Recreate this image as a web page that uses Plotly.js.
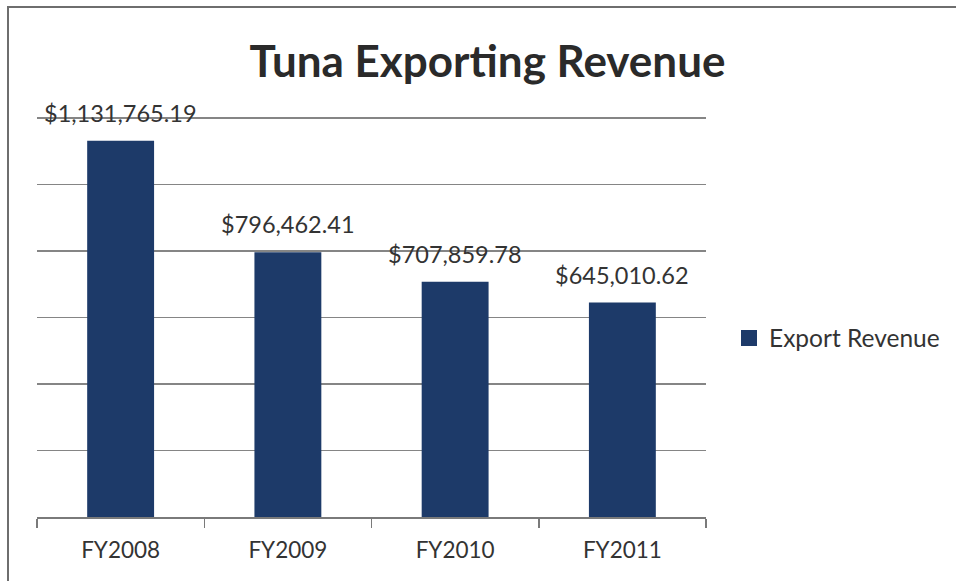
<!DOCTYPE html>
<html>
<head>
<meta charset="utf-8">
<script src="https://cdn.plot.ly/plotly-3.0.1.min.js"></script>
<style>
  html, body { margin: 0; padding: 0; background: #fff; }
  #wrap { position: relative; width: 956px; height: 581px; overflow: hidden; }
  #chart { position: absolute; left: 0; top: 0; width: 956px; height: 581px; }
  #frame { position: absolute; left: 7px; top: 6px; width: 960px; height: 590px;
           border-top: 2px solid #6e6e6e; border-left: 2px solid #6e6e6e; pointer-events: none; }
</style>
</head>
<body>
<div id="wrap">
  <div id="chart"></div>
  <div id="frame"></div>
</div>
<script>
const categories = ["FY2008", "FY2009", "FY2010", "FY2011"];
const revenue = [1131765.19, 796462.41, 707859.78, 645010.62];
const valueLabels = ["$1,131,765.19", "$796,462.41", "$707,859.78", "$645,010.62"];
const seriesName = "Export Revenue";

const barColor = "#1d3a69";
const font = "Lato, 'Open Sans', sans-serif";

const trace = {
  type: "bar",
  x: categories,
  y: revenue,
  name: seriesName,
  legendgroup: "rev",
  marker: { color: barColor },
  showlegend: false,
  hoverinfo: "skip"
};

// legend-only entry with a larger square swatch
const legendTrace = {
  type: "scatter",
  mode: "markers",
  x: [null], y: [null],
  name: seriesName,
  legendgroup: "rev",
  marker: { color: barColor, symbol: "square", size: 16 },
  showlegend: true,
  hoverinfo: "skip"
};

const annotations = categories.map((c, i) => ({
  x: c, y: revenue[i], xref: "x", yref: "y",
  text: valueLabels[i],
  showarrow: false,
  yanchor: "bottom",
  yshift: 12,
  font: { family: font, size: 23.5, color: "#333333" }
}));

const layout = {
  width: 956, height: 581,
  margin: { l: 37, r: 250, t: 116, b: 64 },
  paper_bgcolor: "#ffffff",
  plot_bgcolor: "#ffffff",
  title: {
    text: "<b>Tuna Exporting Revenue</b>",
    xref: "container", yref: "container",
    x: 0.51, xanchor: "center",
    y: 1 - 62 / 581, yanchor: "middle",
    font: { family: font, size: 44, color: "#2a2a2a" }
  },
  bargap: 0.6,
  xaxis: {
    type: "category",
    categoryarray: categories, categoryorder: "array",
    showgrid: false,
    showline: true, linecolor: "#7a7a7a", linewidth: 1.5,
    ticks: "outside", tickson: "boundaries", ticklen: 9, tickcolor: "#7a7a7a", tickwidth: 1.5,
    ticklabelstandoff: 12,
    tickfont: { family: font, size: 22.5, color: "#333333" },
    zeroline: false
  },
  yaxis: {
    range: [0, 1206000],
    dtick: 200000, tick0: 0,
    showticklabels: false,
    showgrid: true, gridcolor: "#858585", gridwidth: 1.5,
    zeroline: false,
    showline: false, ticks: ""
  },
  legend: {
    x: 729 / 956, xref: "container", xanchor: "left",
    y: 1 - 338 / 581, yref: "container", yanchor: "middle",
    font: { family: font, size: 24.5, color: "#333333" },
    itemwidth: 30,
    bgcolor: "rgba(0,0,0,0)"
  },
  annotations: annotations,
  showlegend: true
};

Plotly.newPlot("chart", [trace, legendTrace], layout, { displayModeBar: false, staticPlot: true });
</script>
</body>
</html>
